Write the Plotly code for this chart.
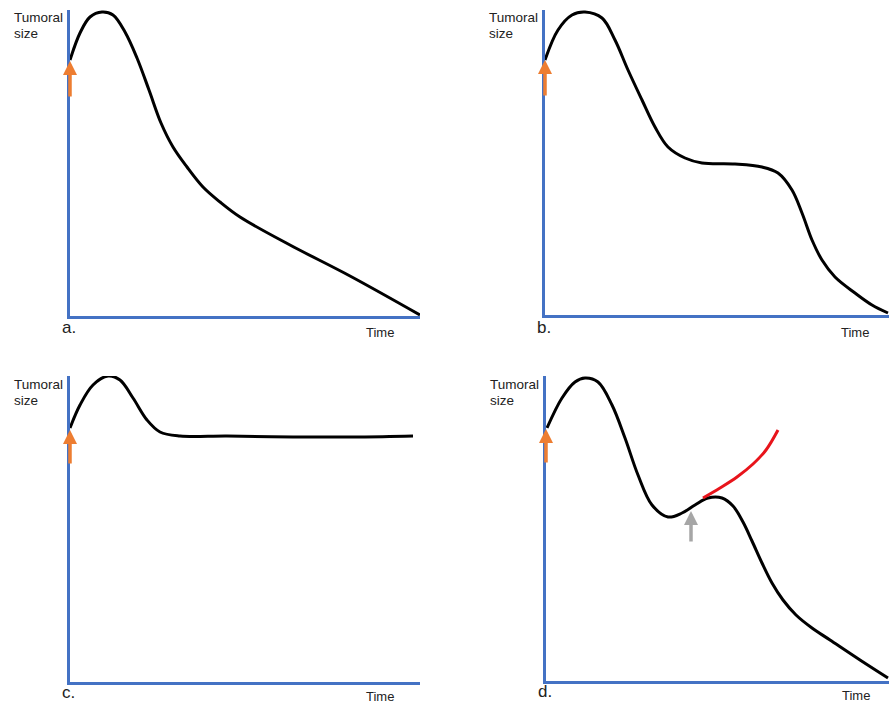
import plotly.graph_objects as go

# ---- data (arbitrary units) ----
a_time = [0, 10, 20, 32, 43, 55, 67, 79, 91, 103, 117, 133, 150, 170, 220, 280, 350]
a_size = [256, 283, 299, 304, 301, 284, 258, 226, 193, 169, 149, 129, 114, 99, 71, 40, 1]

b_time = [0, 13, 27, 40, 57, 70, 83, 97, 110, 123, 140, 157, 190, 217, 233, 247, 257, 267, 277, 290, 310, 327, 343]
b_size = [255, 285, 300, 303, 297, 275, 245, 215, 188, 168, 157, 152, 151, 148, 142, 125, 102, 75, 55, 38, 22, 10, 2]

c_time = [0, 10, 23, 38, 50, 63, 77, 90, 110, 157, 223, 290, 343]
c_size = [254, 277, 297, 306, 302, 284, 262, 250, 246, 246, 245, 245, 246]

d_time = [1, 16, 29, 39, 52, 66, 79, 92, 106, 122, 136, 149, 162, 176, 187, 197, 206, 216, 226, 237, 250, 266, 284, 314, 342]
d_size = [253, 283, 299, 303, 299, 276, 243, 206, 176, 164, 168, 176, 183, 183, 175, 159, 140, 118, 98, 81, 66, 53, 41, 21, 3]

d_red_time = [157, 174, 191, 207, 220, 232]
d_red_size = [183, 193, 204, 217, 231, 251]

# treatment start arrows (tip, tail sizes) and resistance arrow for panel d
treat_tip = {"a": 255, "b": 255, "c": 252, "d": 252}
treat_tail = {"a": 218, "b": 218, "c": 217, "d": 217}
resist_time = 145
resist_tip = 170
resist_tail = 138

panel_letters = ["a.", "b.", "c.", "d."]
y_title_lines = ["Tumoral", "size"]
x_title = "Time"

W, H = 889, 703
BLUE = "#4472C4"
ORANGE = "#ED7D31"
GRAY = "#A6A6A6"
FONT = "Arial, Liberation Sans, Helvetica, sans-serif"
TXT = "#222222"

# panel pixel boxes: (left, right, top, bottom)
boxes = {
    "a": (70, 420, 10, 316),
    "b": (545, 889, 10, 315),
    "c": (70, 420, 376, 682),
    "d": (546, 889, 376, 681),
}
keys = ["a", "b", "c", "d"]

fig = go.Figure()
series = {
    "a": (a_time, a_size),
    "b": (b_time, b_size),
    "c": (c_time, c_size),
    "d": (d_time, d_size),
}

layout = dict(
    width=W, height=H,
    margin=dict(l=0, r=0, t=0, b=0),
    paper_bgcolor="white", plot_bgcolor="white",
    showlegend=False,
    font=dict(family=FONT, color=TXT),
)

annotations = []
for i, k in enumerate(keys):
    l, r, t, b = boxes[k]
    bottom_row = i >= 2
    sfx = "" if i == 0 else str(i + 1)
    xa, ya = "x" + sfx, "y" + sfx
    layout["xaxis" + sfx] = dict(
        domain=[l / W, r / W], range=[0, r - l], anchor=ya,
        showline=True, linecolor=BLUE, linewidth=3, showgrid=False,
        zeroline=False, showticklabels=False, ticks="", fixedrange=True,
    )
    layout["yaxis" + sfx] = dict(
        domain=[1 - b / H, 1 - t / H], range=[0, b - t], anchor=xa,
        showline=True, linecolor=BLUE, linewidth=3, showgrid=False,
        zeroline=False, showticklabels=False, ticks="", fixedrange=True,
    )
    tx, ts = series[k]
    fig.add_trace(go.Scatter(
        x=tx, y=ts, xaxis=xa, yaxis=ya, mode="lines",
        line=dict(color="black", width=3, shape="spline", smoothing=1.0),
        hoverinfo="skip",
    ))
    # orange treatment arrow
    annotations.append(dict(
        x=0, y=treat_tip[k], ax=0, ay=treat_tail[k],
        xref=xa, yref=ya, axref=xa, ayref=ya,
        showarrow=True, arrowhead=2, arrowsize=0.8, arrowwidth=3.5,
        arrowcolor=ORANGE, text="",
    ))
    # y title (two lines)
    for j, line in enumerate(y_title_lines):
        annotations.append(dict(
            x=(l - 58) / W, y=1 - (t + 7.5 + 16 * j + (0.5 if bottom_row else 0)) / H,
            xref="paper", yref="paper",
            xanchor="left", yanchor="middle", align="left", showarrow=False,
            text=line, font=dict(size=13.5, family=FONT, color=TXT),
        ))
    # panel letter
    annotations.append(dict(
        x=(l - 10) / W, y=1 - (b + (10 if bottom_row else 12)) / H,
        xref="paper", yref="paper",
        xanchor="left", yanchor="middle", showarrow=False,
        text=panel_letters[i], font=dict(size=17, family=FONT, color=TXT),
    ))
    # x title
    annotations.append(dict(
        x=(l + 294) / W, y=1 - (b + (14 if bottom_row else 17)) / H,
        xref="paper", yref="paper",
        xanchor="left", yanchor="middle", showarrow=False,
        text=x_title, font=dict(size=13, family=FONT, color=TXT),
    ))

# red resistant regrowth in panel d
fig.add_trace(go.Scatter(
    x=d_red_time, y=d_red_size, xaxis="x4", yaxis="y4", mode="lines",
    line=dict(color="#E8141B", width=3, shape="spline", smoothing=1.0),
    hoverinfo="skip",
))
annotations.append(dict(
    x=resist_time, y=resist_tip, ax=resist_time, ay=resist_tail,
    xref="x4", yref="y4", axref="x4", ayref="y4",
    showarrow=True, arrowhead=2, arrowsize=0.8, arrowwidth=3.5,
    arrowcolor=GRAY, text="",
))

layout["annotations"] = annotations
fig.update_layout(**layout)
fig.write_html(
    "out.html",
    config={"displayModeBar": False, "staticPlot": True},
    post_script="document.body.style.margin='0';document.body.style.overflow='hidden';",
)
